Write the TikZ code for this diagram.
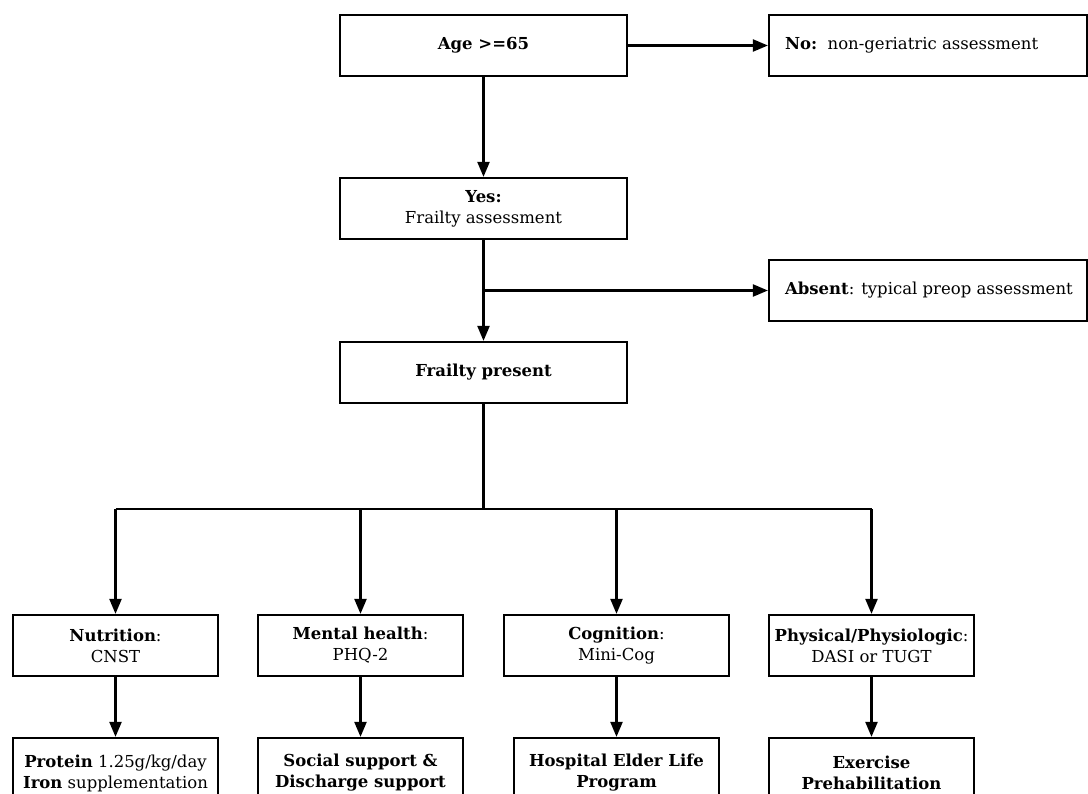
\documentclass[tikz,border=0pt]{standalone}
\usepackage{fontspec}
\setmainfont{DejaVu Serif}
\usetikzlibrary{arrows.meta}
\begin{document}
\begin{tikzpicture}[x=1pt,y=-1pt,
  box/.style={draw=black, line width=2.2pt, rectangle, minimum height=61pt,
    inner sep=0pt, align=center, font=\fontsize{16.5}{21}\selectfont},
  lbox/.style={box, minimum width=318pt},
  wbox/.style={box, minimum width=287pt},
  sbox/.style={box, minimum width=205pt},
  bbox/.style={box, minimum width=205pt, minimum height=70pt},
  arr/.style={line width=2.2pt, -{Triangle[length=15pt,width=12pt]}},
  ln/.style={line width=2.2pt}]
\useasboundingbox (0,0) rectangle (1088,794);
% top column
\node[wbox] (age) at (483.5,45.5) {\textbf{Age >=65}};
\node[lbox] (no) at (928,45.5) {\makebox[286pt][l]{\textbf{No:}\ \ non-geriatric assessment}};
\node[wbox] (yes) at (483.5,208.5) {\textbf{Yes:}\\Frailty assessment};
\node[lbox] (absent) at (928,290.5) {\makebox[286pt][l]{\textbf{Absent}: typical preop assessment}};
\node[wbox] (frail) at (483.5,372.5) {\textbf{Frailty present}};
% first row
\node[sbox] (nut) at (115.5,645.5) {\textbf{Nutrition}:\\CNST};
\node[sbox] (men) at (360.5,645.5) {\textbf{Mental health}:\\PHQ-2};
\node[box, minimum width=225pt] (cog) at (616.5,645.5) {\textbf{Cognition}:\\Mini-Cog};
\node[sbox] (phy) at (871.5,645.5) {\textbf{Physical/Physiologic}:\\DASI or TUGT};
% second row
\node[bbox] (pro) at (115.5,773) {\textbf{Protein} 1.25g/kg/day\\\textbf{Iron} supplementation};
\node[bbox] (soc) at (360.5,773) {\textbf{Social support \&}\\\textbf{Discharge support}};
\node[bbox] (hos) at (616.5,773) {\textbf{Hospital Elder Life}\\\textbf{Program}};
\node[bbox] (exe) at (871.5,773) {\textbf{Exercise}\\\textbf{Prehabilitation}};
% connectors
\draw[arr] (age) -- (no);
\draw[arr] (age) -- (yes);
\draw[arr] (yes) -- (frail);
\coordinate (br) at (yes.south |- absent.west);
\draw[arr] (br) -- (absent);
\coordinate (hub) at (483.5,509);
\draw[ln] (frail) -- (hub);
\draw[ln] (nut.north |- hub) -- (phy.north |- hub);
\foreach \n in {nut,men,cog,phy}{
  \draw[arr] (\n.north |- hub) -- (\n);
}
\draw[arr] (nut) -- (pro);
\draw[arr] (men) -- (soc);
\draw[arr] (cog) -- (hos);
\draw[arr] (phy) -- (exe);
\end{tikzpicture}
\end{document}
